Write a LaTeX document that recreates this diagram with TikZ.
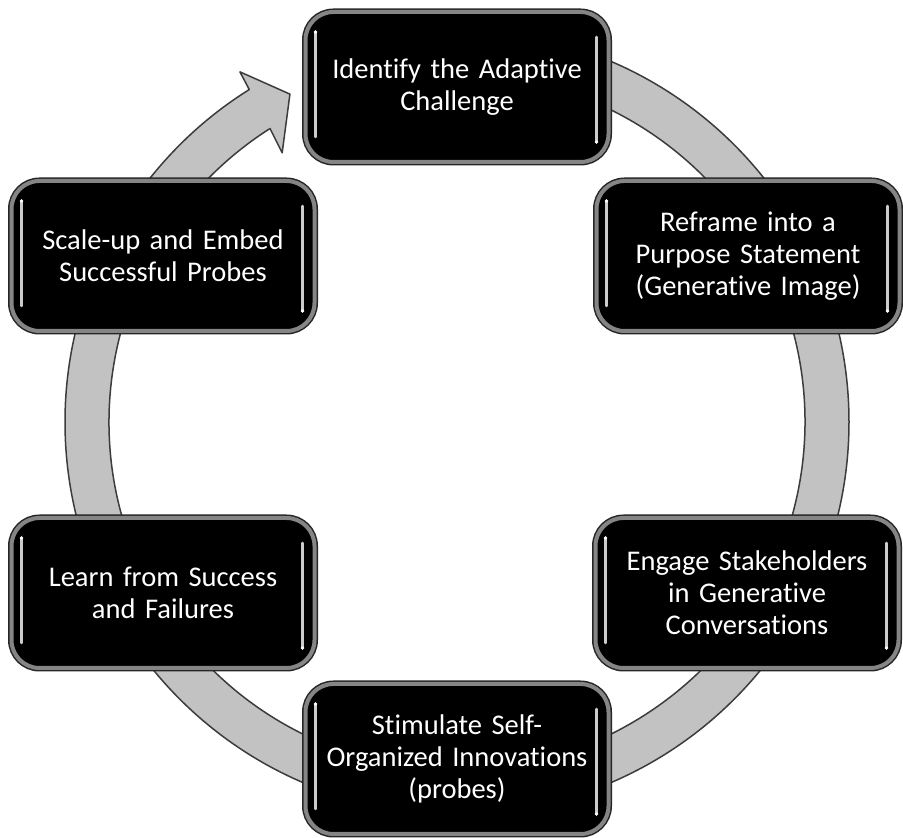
\documentclass[tikz,border=0pt]{standalone}
\usepackage{fontspec}
\setmainfont{Carlito}[Ligatures=NoCommon]
\usetikzlibrary{calc}
\definecolor{ringfill}{HTML}{C2C2C2}
\definecolor{ringline}{HTML}{3C3C3C}
\definecolor{bevel}{HTML}{858585}
\tikzset{
  stage/.style={fill=black, draw=bevel, line width=4pt, rounded corners=28pt,
    minimum width=303pt, minimum height=150pt, inner sep=0pt,
    text=white, align=center, text width=296pt,
    font=\fontsize{28.5}{32}\selectfont,
    preaction={draw=black!85, line width=7pt}},
  gloss/.style={draw=gray!40, line width=2.5pt, line cap=round},
  glossdot/.style={fill=white},
  ring/.style={fill=ringfill, draw=ringline, line width=1.5pt, line join=round}
}
\begin{document}
\begin{tikzpicture}[x=1pt, y=1pt]
  \useasboundingbox (0,0) rectangle (903,838);
  \fill[white] (0,0) rectangle (903,838);
  \coordinate (C) at (457,416);

  % circular arrow running clockwise behind the stages
  \path[ring] ($(C)+(90:392)$) arc[start angle=90, end angle=-238, radius=392]
    -- ($(C)+(-238.2:412)$) -- ($(C)+(-243:368)$) -- ($(C)+(-237:321)$)
    -- ($(C)+(-237.5:348)$) arc[start angle=-237.5, end angle=90, radius=348]
    -- cycle;

  % the six stages of the cycle
  \node[stage] (top) at (457,751) {Identify the Adaptive\\Challenge};
  \node[stage] (ur)  at (748,582) {Reframe into a\\Purpose Statement\\(Generative Image)};
  \node[stage] (lr)  at (747,245) {Engage Stakeholders\\in Generative\\Conversations};
  \node[stage] (bot) at (457,79)  {Stimulate Self-\\Organized Innovations\\(probes)};
  \node[stage] (ll)  at (163,245) {Learn from Success\\and Failures};
  \node[stage] (ul)  at (163,582) {Scale-up and Embed\\Successful Probes};

  % glossy highlights along the inner sides of each stage
  \foreach \n in {top,ur,lr,bot,ll,ul} {
    \draw[gloss] ($(\n.north west)+(12,-22)$) -- ($(\n.south west)+(12,27)$);
    \fill[glossdot] ($(\n.north west)+(12,-22)$) circle (1.8pt);
    \draw[gloss] ($(\n.north east)+(-14,-27)$) -- ($(\n.south east)+(-14,22)$);
    \fill[glossdot] ($(\n.south east)+(-14,22)$) circle (1.8pt);
  }
\end{tikzpicture}
\end{document}
